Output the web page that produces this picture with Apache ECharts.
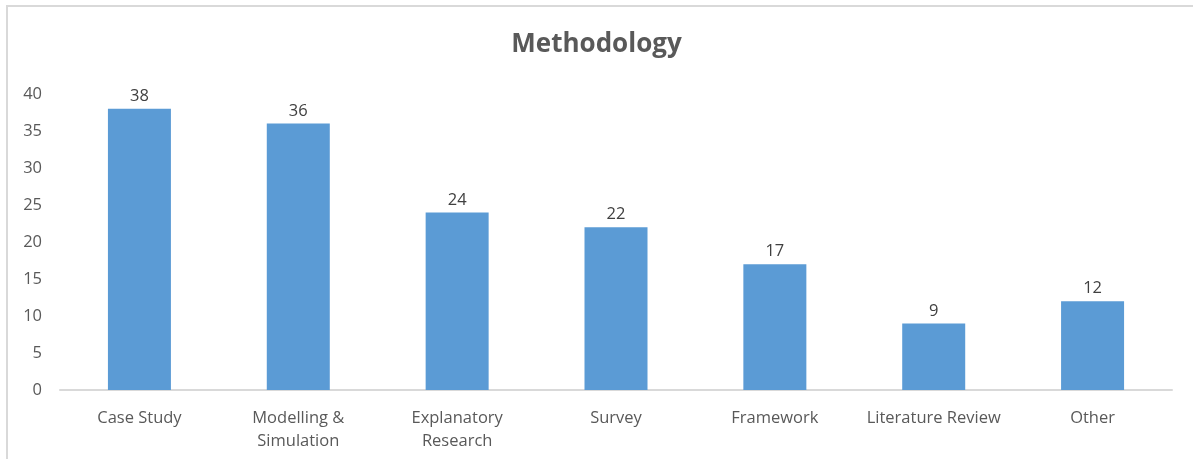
<!DOCTYPE html>
<html>
<head>
<meta charset="utf-8">
<script src="https://cdn.jsdelivr.net/npm/echarts@6/dist/echarts.min.js"></script>
<style>
  html, body { margin: 0; padding: 0; background: #fff; }
  #methodology { width: 1193px; height: 459px; }
</style>
</head>
<body>
<div id="methodology"></div>
<script>
var categories = ['Case Study', 'Modelling &\nSimulation', 'Explanatory\nResearch', 'Survey', 'Framework', 'Literature Review', 'Other']
var counts = [38, 36, 24, 22, 17, 9, 12]
var yTicks = [0, 5, 10, 15, 20, 25, 30, 35, 40]

var textColor = '#595959'
var fontName = '"Open Sans", "Liberation Sans", sans-serif'

var chart = echarts.init(document.getElementById('methodology'))
var option = {
  animation: false,
  textStyle: { fontFamily: fontName },
  title: {
    text: 'Methodology',
    left: 'center',
    top: 27,
    textStyle: { color: textColor, fontSize: 26, fontWeight: 'bold', fontFamily: fontName }
  },
  // chart frame, only top and left edges show in the picture
  graphic: [{
    type: 'rect',
    shape: { x: 7, y: 6, width: 1400, height: 700 },
    style: { fill: 'none', stroke: '#d9d9d9', lineWidth: 2 },
    silent: true
  }],
  grid: { left: 60, right: 21, top: 94, bottom: 69 },
  xAxis: {
    type: 'category',
    data: categories,
    axisTick: { show: false },
    axisLine: { lineStyle: { color: '#d9d9d9', width: 2 } },
    axisLabel: { color: textColor, fontSize: 16.5, margin: 17, lineHeight: 23, interval: 0 }
  },
  yAxis: {
    type: 'value',
    min: yTicks[0],
    max: yTicks[yTicks.length - 1],
    interval: yTicks[1] - yTicks[0],
    splitLine: { show: false },
    axisLine: { show: false },
    axisTick: { show: false },
    axisLabel: { color: textColor, fontSize: 16.5, margin: 18 }
  },
  series: [{
    type: 'bar',
    data: counts,
    barWidth: 63,
    itemStyle: { color: '#5b9bd5' },
    label: { show: true, position: 'top', distance: 4, color: '#404040', fontSize: 16.5 }
  }]
}
chart.setOption(option)
</script>
</body>
</html>
